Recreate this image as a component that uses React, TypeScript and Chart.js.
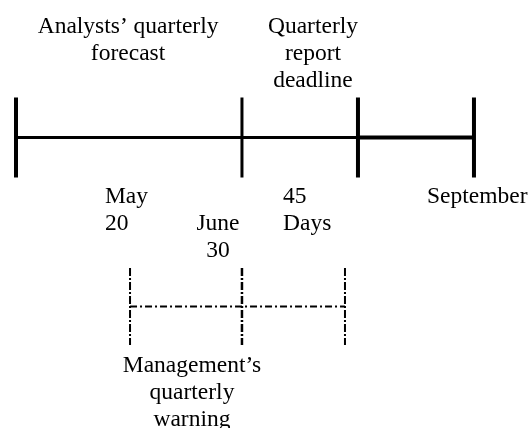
import React, { useEffect, useRef } from "react";
import { Chart, registerables } from "chart.js";

Chart.register(...registerables);

// Timeline events (abstract timeline units)
const mainTicks = [0, 1.948, 2.948, 3.948]; // forecast, June 30, report deadline, September
const mainSegmentWidths = [3, 3, 4];
const mainTickWidths = [4, 3, 4, 4];
const warningTicks = [0.983, 1.948, 2.836]; // management's warning window

// Text labels
const topLabelForecast = ["Analysts\u2019 quarterly", "forecast"];
const topLabelDeadline = ["Quarterly", "report", "deadline"];
const labelMay = ["May", "20"];
const labelJune = ["June", "30"];
const labelDays = ["45", "Days"];
const labelSeptember = ["September"];
const labelWarning = ["Management\u2019s", "quarterly", "warning"];

// Layout (vertical levels in page rows, horizontal anchors in timeline units)
const LEVEL_MAIN = 137.5;
const TICK_HALF = 40;
const WARN_TOP = 268;
const WARN_BOTTOM = 345;
const WARN_MID = 306.5;

type Lbl = { lines: string[]; x: number; y: number; align: CanvasTextAlign };
const labels: Lbl[] = [
  { lines: topLabelForecast, x: 0.966, y: 33, align: "center" },
  { lines: topLabelDeadline, x: 2.56, y: 33, align: "center" },
  { lines: labelMay, x: 0.767, y: 203, align: "left" },
  { lines: labelJune, x: 1.741, y: 230, align: "center" },
  { lines: labelDays, x: 2.302, y: 203, align: "left" },
  { lines: labelSeptember, x: 3.543, y: 203, align: "left" },
  { lines: labelWarning, x: 1.517, y: 371.5, align: "center" },
];
const LINE_GAP = 27;
const FONT = "23.5px 'Liberation Serif', 'Times New Roman', serif";

export default function App() {
  const ref = useRef<HTMLCanvasElement | null>(null);
  useEffect(() => {
    if (!ref.current) return;
    const datasets: any[] = [];
    const base = {
      showLine: true,
      pointRadius: 0,
      borderColor: "#000",
      backgroundColor: "#000",
      borderCapStyle: "butt",
      fill: false,
      tension: 0,
    };
    // main segments
    for (let i = 0; i < mainTicks.length - 1; i++) {
      datasets.push({
        ...base,
        data: [
          { x: mainTicks[i], y: LEVEL_MAIN },
          { x: mainTicks[i + 1], y: LEVEL_MAIN },
        ],
        borderWidth: mainSegmentWidths[i],
      });
    }
    // main ticks
    mainTicks.forEach((t, i) => {
      datasets.push({
        ...base,
        data: [
          { x: t, y: LEVEL_MAIN - TICK_HALF },
          { x: t, y: LEVEL_MAIN + TICK_HALF },
        ],
        borderWidth: mainTickWidths[i],
      });
    });
    // warning window horizontal
    datasets.push({
      ...base,
      data: [
        { x: warningTicks[0], y: WARN_MID },
        { x: warningTicks[warningTicks.length - 1], y: WARN_MID },
      ],
      borderWidth: 2,
      borderDash: [7, 3, 2, 3],
    });
    warningTicks.forEach((t, i) => {
      datasets.push({
        ...base,
        data: [
          { x: t, y: WARN_TOP },
          { x: t, y: WARN_BOTTOM },
        ],
        borderWidth: i === 1 ? 2.5 : 2,
        borderDash: [8, 2, 2, 2],
      });
    });

    const textPlugin = {
      id: "textLabels",
      afterDraw(chart: any) {
        const ctx = chart.ctx;
        const xs = chart.scales.x;
        ctx.save();
        ctx.fillStyle = "#000";
        ctx.font = FONT;
        ctx.textBaseline = "alphabetic";
        labels.forEach((l) => {
          ctx.textAlign = l.align;
          const px = xs.getPixelForValue(l.x);
          l.lines.forEach((line, i) => {
            ctx.fillText(line, px, l.y + i * LINE_GAP);
          });
        });
        ctx.restore();
      },
    };

    const chart = new Chart(ref.current, {
      type: "scatter",
      data: { datasets },
      options: {
        animation: false,
        responsive: false,
        maintainAspectRatio: false,
        layout: { padding: 0 },
        plugins: { legend: { display: false }, tooltip: { enabled: false } },
        scales: {
          x: { type: "linear", display: false, min: -16 / 116, max: 514 / 116 },
          y: { type: "linear", display: false, min: 0, max: 428, reverse: true },
        },
        elements: { line: { borderCapStyle: "butt" } },
      },
      plugins: [textPlugin],
    } as any);
    return () => chart.destroy();
  }, []);
  return (
    <div style={{ position: "fixed", left: 0, top: 0, width: 530, height: 428, background: "#fff" }}>
      <canvas ref={ref} width={530} height={428} />
    </div>
  );
}
